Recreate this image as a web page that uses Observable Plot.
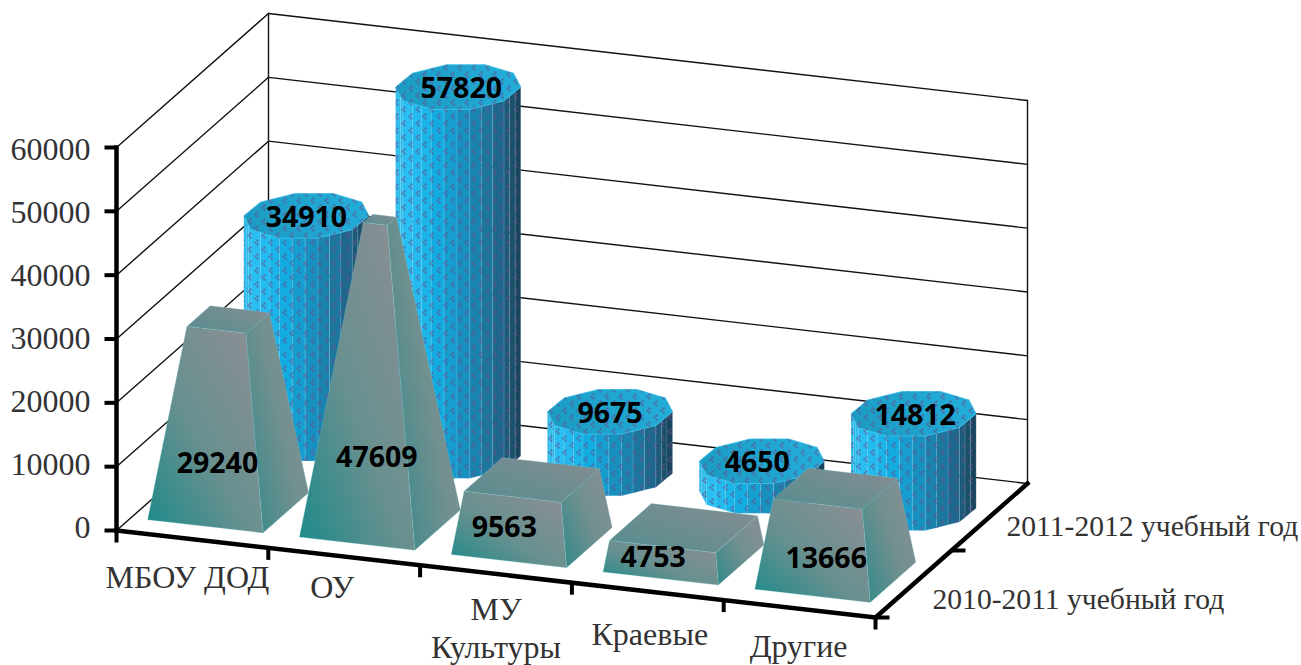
<!DOCTYPE html>
<html>
<head>
<meta charset="utf-8">
<script src="https://cdn.jsdelivr.net/npm/d3@7"></script>
<script src="https://cdn.jsdelivr.net/npm/@observablehq/plot@0.6"></script>
<style>html,body{margin:0;padding:0;background:#fff}svg{display:block}</style>
</head>
<body>
<div id="chart"></div>
<script>
// ---- data ----
const categories = ["МБОУ ДОД", "ОУ", "МУ\nКультуры", "Краевые", "Другие"];
const values2011 = [34910, 57820, 9675, 4650, 14812];
const values2010 = [29240, 47609, 9563, 4753, 13666];
const seriesNames = ["2010-2011 учебный год", "2011-2012 учебный год"];
const valueTicks = [0, 10000, 20000, 30000, 40000, 50000, 60000];
const valueMax = 60000;

// ---- oblique projection: (category position, depth position, value) to the plane of the x/y scales ----
const P = (c, d, v = 0) => ({
  x: 116 + 151.8 * c + 76 * d,
  y: 530 + 17.4 * c - 67 * d - v * 383 / valueMax
});

// ---- small layout tweaks for label placement ----
const catLabelDrop = [37, 29, 53, 41, 36];
const catLabelShift = [-5, -12, 0, 2, -1];
const backShift = [0, 0.02, 0, -0.03, 0.01];
const frontLift = [10000, 13800, 5200, 3100, 6000];
const frontShift = [0.08, 0.13, -0.03, -0.05, 0.09];

// ---- polygons built from the data ----
const poly = (id, pts) => [...pts, pts[0]].map(p => ({...p, id}));

// Truncated pyramids of the front row: the taper reaches a point at valueMax
const hw = 0.38, hd = 0.30, dc = 0.49;
const frustumFront = [], frustumRight = [], frustumTop = [];
values2010.forEach((v, i) => {
  const c = i + 0.49, k = 1 - v / valueMax;
  const fl = P(c - hw, dc - hd), fr = P(c + hw, dc - hd), br = P(c + hw, dc + hd);
  const tfl = P(c - hw * k, dc - hd * k, v), tfr = P(c + hw * k, dc - hd * k, v);
  const tbr = P(c + hw * k, dc + hd * k, v), tbl = P(c - hw * k, dc + hd * k, v);
  frustumFront.push(...poly("f" + i, [fl, fr, tfr, tfl]));
  frustumRight.push(...poly("r" + i, [fr, br, tbr, tfr]));
  frustumTop.push(...poly("t" + i, [tfl, tfr, tbr, tbl]));
});

// Faceted cylinders of the back row
const sides = 10, sub = 3, rc = 0.38, rd = 0.335, turn = 0.602;
const shade = d3.scaleLinear()
  .domain([0, 0.12, 0.32, 0.55, 0.78, 0.92, 1])
  .range(["#2ab9e8", "#29c0f4", "#12aee2", "#1790be", "#1d7097", "#1c5470", "#173f54"]);
const cylSide = [], cylTop = [];
values2011.forEach((v, i) => {
  const c = i + 0.5, dm = 1.5;
  const ring = h => d3.range(sides).map(k => {
    const a = (k + 0.5) / sides * 2 * Math.PI + turn;
    return P(c + rc * Math.cos(a), dm + rd * Math.sin(a), h);
  });
  const top = ring(v), bot = ring(0);
  cylTop.push(...poly("c" + i, top));
  const xs = top.map(p => p.x), x0 = d3.min(xs), x1 = d3.max(xs);
  for (let k = 0; k < sides; k++) {
    const n = (k + 1) % sides;
    if (top[n].x <= top[k].x) continue;
    for (let s = 0; s < sub; s++) {
      const mix = (a, b, t) => ({x: a.x + (b.x - a.x) * t, y: a.y + (b.y - a.y) * t});
      const a1 = mix(top[k], top[n], s / sub), a2 = mix(top[k], top[n], (s + 1) / sub);
      const b1 = mix(bot[k], bot[n], s / sub), b2 = mix(bot[k], bot[n], (s + 1) / sub);
      const t = ((a1.x + a2.x) / 2 - x0) / (x1 - x0);
      cylSide.push(...poly(`s${i}-${k}-${s}`, [a1, a2, b2, b1]).map(p => ({...p, color: shade(t)})));
    }
  }
});

// Walls and floor
const leftWall = valueTicks.flatMap(v => [P(0, 0, v), P(0, 2, v)].map(p => ({...p, id: v})));
const backWall = valueTicks.flatMap(v => [P(0, 2, v), P(5, 2, v)].map(p => ({...p, id: v})));
const verticals = [0, 5].flatMap(c => [P(c, 2, 0), P(c, 2, valueMax)].map(p => ({...p, id: c})));

// Axes
const axisLines = [
  [P(0, 0, 0), P(0, 0, valueMax)],
  [P(0, 0, 0), P(5, 0, 0)],
  [P(5, 0, 0), P(5, 2, 0)]
].flatMap((seg, i) => seg.map(p => ({...p, id: i})));
const tickLen = 12;
const yTickLinks = valueTicks.map(v => ({...P(0, 0, v), dx: -tickLen, dy: 0}));
const xTickLinks = d3.range(0, 6).map(c => ({...P(c, 0, 0), dx: 0, dy: tickLen}));
const depthTickLinks = [1, 0].map(d => ({...P(5, d, 0), dx: tickLen + 2, dy: 0}));
const tickLinks = [...yTickLinks, ...xTickLinks, ...depthTickLinks];

// Text
const yLabels = valueTicks.map(v => {
  const p = P(0, 0, v);
  return {x: p.x - 26, y: p.y - 3 + 5 * v / valueMax, text: String(v)};
});
const catLabels = categories.map((t, i) => {
  const p = P(i + 0.5, 0, 0);
  return {x: p.x + catLabelShift[i], y: p.y + catLabelDrop[i], text: t};
});
const seriesLabels = seriesNames.map((t, i) => {
  const p = P(5, i + 0.5, 0);
  return {x: p.x + (i ? 17 : 19), y: p.y + (i ? 10 : 16), text: t};
});
const backLabels = values2011.map((v, i) => {
  const p = P(i + 0.5 + backShift[i], 1.5, v);
  return {x: p.x, y: p.y + 2, text: String(v)};
});
const frontLabels = values2010.map((v, i) => {
  const p = P(i + 0.49 + frontShift[i], 0.19, frontLift[i]);
  return {x: p.x, y: p.y, text: String(v)};
});

const defs = () => {
  const g = document.createElementNS("http://www.w3.org/2000/svg", "g");
  const chevron = (x, y) => `<rect x="${x}" y="${y + 2}" width="2" height="2"/><rect x="${x + 2}" y="${y}" width="2" height="2"/><rect x="${x + 2}" y="${y + 4}" width="2" height="2"/>`;
  g.innerHTML = `<defs>
    <pattern id="dots" width="14" height="14" patternUnits="userSpaceOnUse">
      <g fill="#66508f" fill-opacity="0.72">${chevron(2, 1)}${chevron(9, 8)}</g>
    </pattern>
    <linearGradient id="gFront" x1="0" y1="1" x2="1" y2="0">
      <stop offset="0" stop-color="#1c8a8a"/><stop offset="0.45" stop-color="#68908f"/><stop offset="1" stop-color="#8f8e95"/>
    </linearGradient>
    <linearGradient id="gRight" x1="0" y1="1" x2="1" y2="0.25">
      <stop offset="0" stop-color="#30898a"/><stop offset="0.6" stop-color="#72908f"/><stop offset="1" stop-color="#848f94"/>
    </linearGradient>
    <linearGradient id="gTop" x1="0" y1="1" x2="1" y2="0">
      <stop offset="0" stop-color="#548d8e"/><stop offset="1" stop-color="#878d93"/>
    </linearGradient>
    <linearGradient id="gCyl" x1="0" y1="0.6" x2="1" y2="0.4">
      <stop offset="0" stop-color="#1b9bc3"/><stop offset="1" stop-color="#22aeda"/>
    </linearGradient>
  </defs>`;
  return g;
};

const serif = "Liberation Serif";
const sansBold = {fontFamily: "Open Sans", fontWeight: 700, fontSize: 28.5, fill: "#000", text: "text", x: "x", y: "y"};
const edge = {stroke: "#7ccfd0", strokeWidth: 0.7, strokeOpacity: 0.35};
const px = {x: "x", y: "y", z: "id", curve: "linear"};

const chart = Plot.plot({
  width: 1301, height: 665,
  marginTop: 0, marginRight: 0, marginBottom: 0, marginLeft: 0,
  style: {background: "#fff"},
  x: {domain: [0, 1301], range: [0, 1301], axis: null},
  y: {domain: [0, 665], range: [0, 665], axis: null},
  color: {type: "identity"},
  marks: [
    defs,
    Plot.line(leftWall, {...px, stroke: "#111", strokeWidth: 1.4}),
    Plot.line(backWall, {...px, stroke: "#111", strokeWidth: 1.4}),
    Plot.line(verticals, {...px, stroke: "#111", strokeWidth: 1.4}),
    Plot.line(axisLines, {...px, stroke: "#000", strokeWidth: 4.5, strokeLinecap: "square"}),
    Plot.link(tickLinks, {x1: "x", y1: "y", x2: d => d.x + d.dx, y2: d => d.y + d.dy, stroke: "#000", strokeWidth: 4}),

    Plot.line(cylSide, {...px, fill: "color", stroke: "#9fe3f6", strokeWidth: 0.5, strokeOpacity: 0.3}),
    Plot.line(cylSide, {...px, fill: "url(#dots)", stroke: "none"}),
    Plot.line(cylTop, {...px, fill: "url(#gCyl)", stroke: "#35bde6", strokeWidth: 0.8}),
    Plot.line(cylTop, {...px, fill: "url(#dots)", stroke: "none"}),

    Plot.line(frustumRight, {...px, fill: "url(#gRight)", ...edge}),
    Plot.line(frustumTop, {...px, fill: "url(#gTop)", ...edge}),
    Plot.line(frustumFront, {...px, fill: "url(#gFront)", ...edge}),

    Plot.text(backLabels, sansBold),
    Plot.text(frontLabels, sansBold),

    Plot.text(yLabels, {x: "x", y: "y", text: "text", textAnchor: "end", fontFamily: serif, fontSize: 32, fill: "#333"}),
    Plot.text(catLabels, {x: "x", y: "y", text: "text", fontFamily: serif, fontSize: 32, fill: "#333", lineHeight: 1.19}),
    Plot.text(seriesLabels, {x: "x", y: "y", text: "text", textAnchor: "start", fontFamily: serif, fontSize: 29.6, fill: "#333"})
  ]
});
document.getElementById("chart").appendChild(chart);
</script>
</body>
</html>
